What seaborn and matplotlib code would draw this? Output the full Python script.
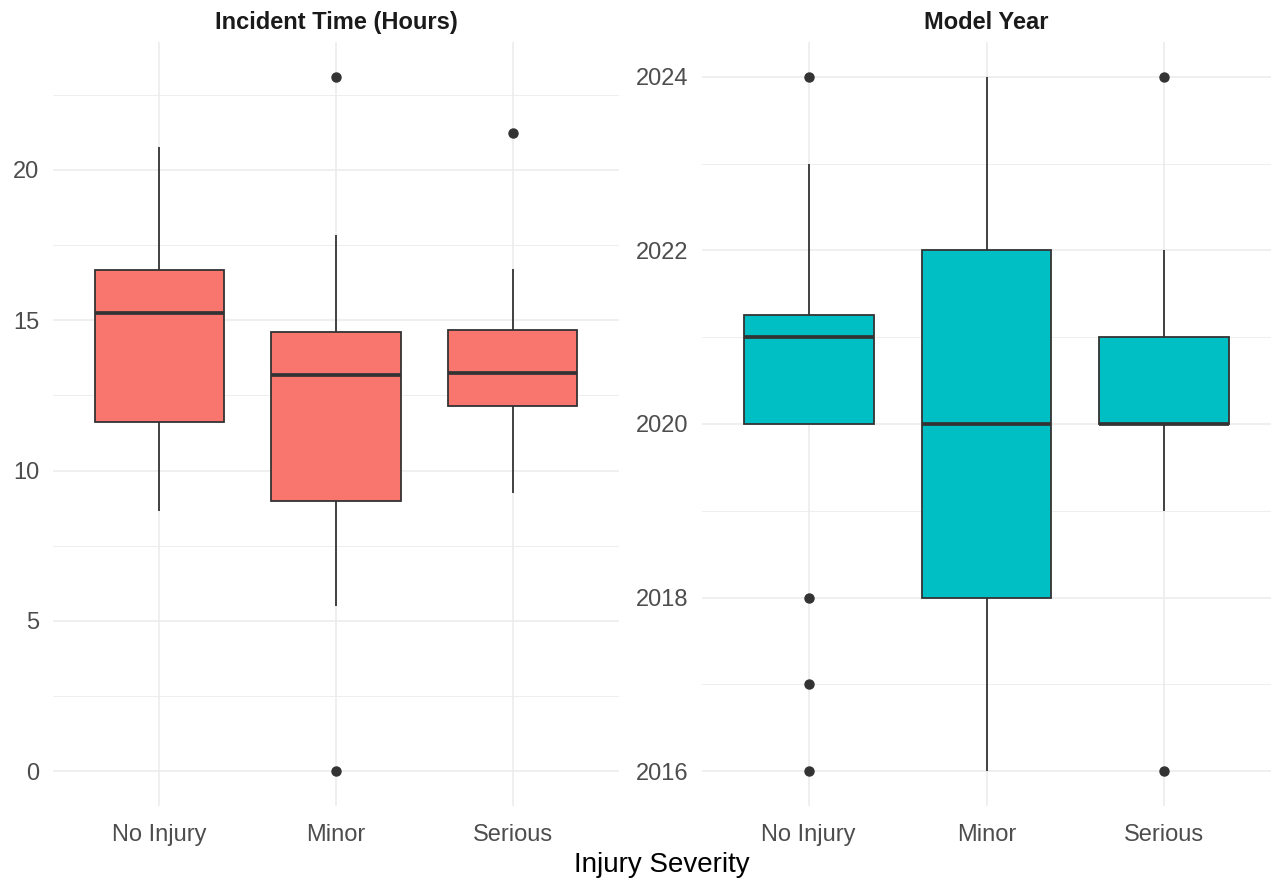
import numpy as np
import pandas as pd
import seaborn as sns
import matplotlib.pyplot as plt
from matplotlib.ticker import MultipleLocator

# severity groups, in plotting order
severity = ['No Injury', 'Minor', 'Serious']

# incident time (hours) per group
hours_no_injury = [8.67, 10.0, 11.63, 13.0, 15.25, 16.0, 16.68, 18.0, 20.76]
hours_minor = [0.0, 5.51, 9.0, 11.0, 13.19, 14.0, 14.62, 17.84, 23.1]
hours_serious = [9.27, 11.0, 12.16, 12.8, 13.26, 14.0, 14.68, 16.71, 21.23]

# model year per group
year_no_injury = [2016, 2017, 2018, 2020, 2020, 2020, 2020, 2021,
                  2021, 2021, 2021, 2021, 2022, 2022, 2023, 2024]
year_minor = [2016, 2018, 2020, 2022, 2024]
year_serious = [2016, 2019, 2020, 2020, 2020, 2021, 2021, 2022, 2024]

titles = ['Incident Time (Hours)', 'Model Year']
colors = ['#F8766D', '#00BFC4']


def long_df(groups):
    rows = []
    for name, vals in zip(severity, groups):
        for v in vals:
            rows.append({'severity': name, 'value': v})
    return pd.DataFrame(rows)


hours_df = long_df([hours_no_injury, hours_minor, hours_serious])
year_df = long_df([year_no_injury, year_minor, year_serious])

sns.set_style('white')
plt.rcParams['font.family'] = ['Liberation Sans', 'DejaVu Sans']

fig = plt.figure(figsize=(12.79, 8.82), dpi=100)
W, H = 1279, 882
ax1 = fig.add_axes([53 / W, 1 - 806 / H, 566 / W, 764 / H])
ax2 = fig.add_axes([702 / W, 1 - 806 / H, 569 / W, 764 / H])

setups = [
    (ax1, hours_df, 5, 2.5),
    (ax2, year_df, 2, 1),
]

for i, (ax, df, major, minor) in enumerate(setups):
    ax.set_axisbelow(True)
    sns.boxplot(data=df, x='severity', y='value', order=severity, ax=ax,
                color=colors[i], saturation=1, width=0.73,
                linecolor='#333333', linewidth=1.3, showcaps=False,
                medianprops={'linewidth': 2.7, 'color': '#333333'},
                flierprops={'marker': 'o', 'markersize': 6.5,
                            'markerfacecolor': '#333333',
                            'markeredgecolor': '#333333'})
    lo, hi = df['value'].min(), df['value'].max()
    span = hi - lo
    ax.set_ylim(lo - 0.05 * span, hi + 0.05 * span)
    ax.set_xlim(-0.6, 2.6)
    ax.yaxis.set_major_locator(MultipleLocator(major))
    ax.yaxis.set_minor_locator(MultipleLocator(minor))
    ax.grid(True, which='major', color='#EBEBEB', linewidth=1.1)
    ax.grid(True, which='minor', axis='y', color='#EBEBEB', linewidth=0.6)
    for s in ax.spines.values():
        s.set_visible(False)
    ax.tick_params(axis='both', which='both', length=0, labelsize=17,
                   labelcolor='#4D4D4D')
    ax.tick_params(axis='y', pad=10)
    ax.tick_params(axis='x', pad=13)
    ax.set_xlabel('')
    ax.set_ylabel('')
    ax.set_title(titles[i], fontsize=17, fontweight='bold', color='#1A1A1A',
                 pad=9.5)

fig.text(662 / W, 1 - 865 / H, 'Injury Severity', ha='center', va='center',
         fontsize=20, color='black')

plt.savefig('out.png', dpi=100)
plt.close()
